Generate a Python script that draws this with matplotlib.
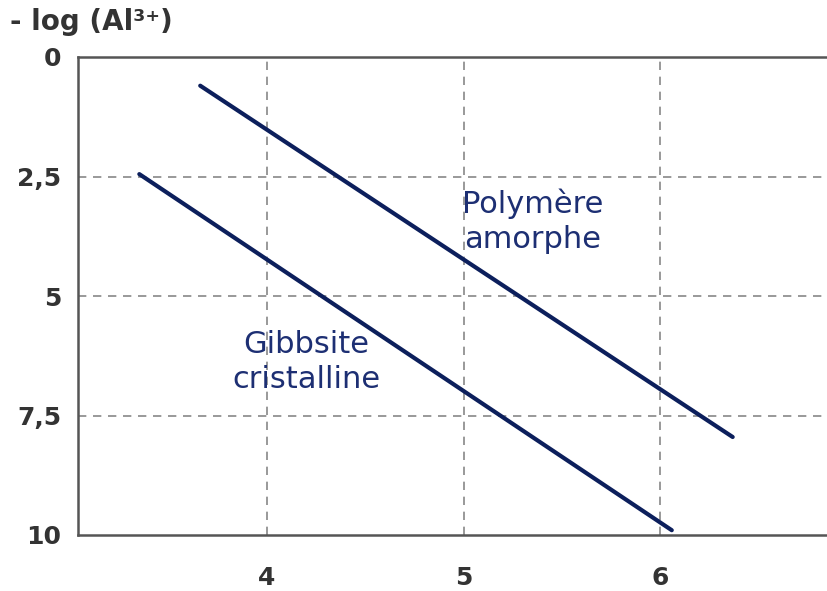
import matplotlib
matplotlib.use("Agg")
import matplotlib.pyplot as plt

# Data
poly_x = [3.66, 6.37]
poly_y = [0.6, 7.95]
gibb_x = [3.35, 6.06]
gibb_y = [2.45, 9.9]
xticks = [4, 5, 6]
yticks = [0, 2.5, 5, 7.5, 10]
ytick_labels = ["0", "2,5", "5", "7,5", "10"]
navy = "#0c1f5c"
text_navy = "#1d2f73"

fig = plt.figure(figsize=(8.27, 5.91), dpi=100)
ax = fig.add_axes([78/827, 1-535/591, 1-78/827, (535-57)/591])
ax.set_xlim(3.038, 6.85)
ax.set_ylim(10, 0)

ax.plot(poly_x, poly_y, color=navy, lw=3, solid_capstyle="round")
ax.plot(gibb_x, gibb_y, color=navy, lw=3, solid_capstyle="round")

ax.set_xticks(xticks)
ax.set_xticklabels([str(v) for v in xticks])
ax.set_yticks(yticks)
ax.set_yticklabels(ytick_labels)
ax.tick_params(length=0, labelsize=18, labelcolor="#333333")
ax.tick_params(axis="x", pad=22)
ax.tick_params(axis="y", pad=12)
for lab in ax.get_xticklabels() + ax.get_yticklabels():
    lab.set_fontweight("bold")

for x in xticks:
    ax.axvline(x, color="#888888", lw=1.2, ls=(0, (5, 4)), zorder=0)
for y in [2.5, 5, 7.5]:
    ax.axhline(y, color="#888888", lw=1.2, ls=(0, (5, 4)), zorder=0)

for s in ["left", "bottom", "top"]:
    ax.spines[s].set_color("#555555")
    ax.spines[s].set_linewidth(1.8)
ax.spines["right"].set_visible(False)

ax.text(5.35, 3.43, "Polymère\namorphe", color=text_navy, fontsize=22,
        ha="center", va="center", linespacing=1.25)
ax.text(4.2, 6.38, "Gibbsite\ncristalline", color=text_navy, fontsize=22,
        ha="center", va="center", linespacing=1.25)

fig.text(10/827, 1-22/591, "- log (Al³⁺)", fontsize=20, fontweight="bold",
         color="#333333", ha="left", va="center")

fig.savefig("out.png", dpi=100)
